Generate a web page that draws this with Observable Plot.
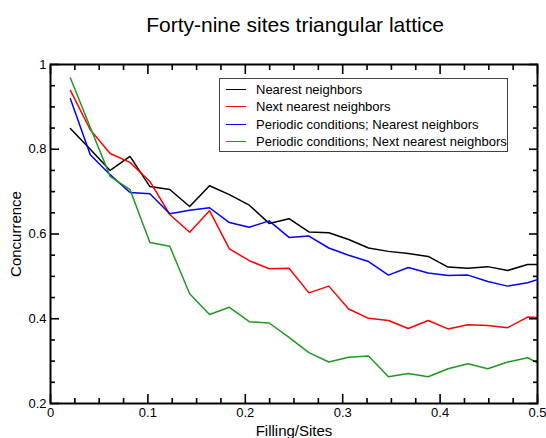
<!DOCTYPE html>
<html><head><meta charset="utf-8">
<script src="https://cdn.jsdelivr.net/npm/d3@7"></script>
<script src="https://cdn.jsdelivr.net/npm/@observablehq/plot@0.6"></script>
<style>
body{margin:0;background:#fff;font-family:"Liberation Sans",Arial,sans-serif;}
#wrap{position:relative;width:546px;height:438px;overflow:hidden;background:#fff}
#title{position:absolute;left:0;top:0;width:546px;height:46px;padding-left:44px;padding-top:14px;box-sizing:border-box;text-align:center;font-size:21px;line-height:21px;color:#000}
#chart{position:absolute;left:0;top:46px}
#legend{position:absolute;left:219px;top:78px;width:289px;height:74px;border:1px solid #444;box-sizing:border-box;background:#fff;font-size:13px;color:#000}
.row{position:absolute;left:0;height:17px;display:flex;align-items:center;white-space:nowrap}
.sw{width:20px;height:0;border-top:1.5px solid;margin-left:6px;margin-right:10px}
</style>
</head><body>
<div id="wrap">
  <div id="title">Forty-nine sites triangular lattice</div>
  <div id="chart"></div>
  <div id="legend"></div>
</div>
<script>
const sites = 49;
const particles = [1,2,3,4,5,6,7,8,9,10,11,12,13,14,15,16,17,18,19,20,21,22,23,24,25];
const seriesNames = ["Nearest neighbors", "Next nearest neighbors", "Periodic conditions; Nearest neighbors", "Periodic conditions; Next nearest neighbors"];
const seriesColors = ["#000000", "#ff0000", "#0000ff", "#1f9a1f"];
const nearest = [0.849,0.800,0.750,0.783,0.712,0.705,0.665,0.714,0.693,0.668,0.625,0.636,0.605,0.603,0.587,0.567,0.559,0.554,0.547,0.522,0.519,0.523,0.514,0.528,0.528];
const nextNearest = [0.939,0.846,0.790,0.769,0.724,0.646,0.604,0.655,0.565,0.537,0.518,0.519,0.461,0.477,0.423,0.401,0.396,0.377,0.396,0.376,0.386,0.384,0.379,0.404,0.402];
const periodicNearest = [0.919,0.787,0.740,0.698,0.695,0.648,0.656,0.662,0.627,0.616,0.631,0.592,0.595,0.567,0.550,0.535,0.503,0.521,0.508,0.502,0.503,0.488,0.477,0.485,0.500];
const periodicNextNearest = [0.968,0.852,0.736,0.705,0.580,0.571,0.459,0.410,0.427,0.393,0.390,0.356,0.320,0.298,0.309,0.312,0.263,0.271,0.263,0.282,0.294,0.282,0.298,0.308,0.284];
const xMajor = [0, 0.1, 0.2, 0.3, 0.4, 0.5];
const xMinor = [0.025,0.05,0.075,0.125,0.15,0.175,0.225,0.25,0.275,0.325,0.35,0.375,0.425,0.45,0.475];
const yMajor = [0.2, 0.4, 0.6, 0.8, 1];
const yMinor = [0.25,0.3,0.35,0.45,0.5,0.55,0.65,0.7,0.75,0.85,0.9,0.95];

const allSeries = [nearest, nextNearest, periodicNearest, periodicNextNearest];

const fmt = d3.format("~g");
const blank = () => "";
const marks = [];
allSeries.forEach((vals, s) => {
  const rows = vals.map((v, i) => ({x: particles[i] / sites, y: v}));
  marks.push(Plot.line(rows, {x: "x", y: "y", stroke: seriesColors[s], strokeWidth: 1.5, clip: true}));
});
// inward ticks (negative tickSize) on all four sides
const tickSets = [[xMajor, yMajor, 9], [xMinor, yMinor, 5]];
for (const [xt, yt, len] of tickSets) {
  for (const anchor of ["bottom", "top"])
    marks.push(Plot.axisX({anchor, ticks: xt, tickSize: -len, tickFormat: blank, label: null, stroke: "#000", strokeWidth: 1.6}));
  for (const anchor of ["left", "right"])
    marks.push(Plot.axisY({anchor, ticks: yt, tickSize: -len, tickFormat: blank, label: null, stroke: "#000", strokeWidth: 1.6}));
}
marks.push(Plot.axisX({anchor: "bottom", ticks: xMajor, tickSize: 0, tickPadding: 4, tickFormat: fmt, label: null, fontSize: 13}));
marks.push(Plot.axisY({anchor: "left", ticks: yMajor, tickSize: 0, tickPadding: 4, tickFormat: fmt, label: null, fontSize: 13}));
marks.push(Plot.axisX({anchor: "bottom", ticks: [], tickSize: 0, label: "Filling/Sites", labelAnchor: "center", labelArrow: "none", labelOffset: 32, fontSize: 15}));
marks.push(Plot.axisY({anchor: "left", ticks: [], tickSize: 0, label: "Concurrence", labelAnchor: "center", labelArrow: "none", labelOffset: 40, fontSize: 15}));
marks.push(Plot.frame({stroke: "#000", strokeWidth: 2}));

const chart = Plot.plot({
  width: 546, height: 392,
  marginTop: 18, marginBottom: 35, marginLeft: 50, marginRight: 9,
  style: {fontFamily: "'Liberation Sans', Arial, sans-serif", fontSize: "13px", color: "#000", background: "#fff"},
  x: {domain: [0, 0.5]},
  y: {domain: [0.2, 1]},
  marks
});
document.getElementById("chart").appendChild(chart);

const legend = document.getElementById("legend");
seriesNames.forEach((name, i) => {
  const row = document.createElement("div");
  row.className = "row";
  row.style.top = (2 + i * 17.3) + "px";
  const sw = document.createElement("span");
  sw.className = "sw";
  sw.style.borderTopColor = seriesColors[i];
  const t = document.createElement("span");
  t.textContent = name;
  row.appendChild(sw); row.appendChild(t);
  legend.appendChild(row);
});
</script>
</body></html>
